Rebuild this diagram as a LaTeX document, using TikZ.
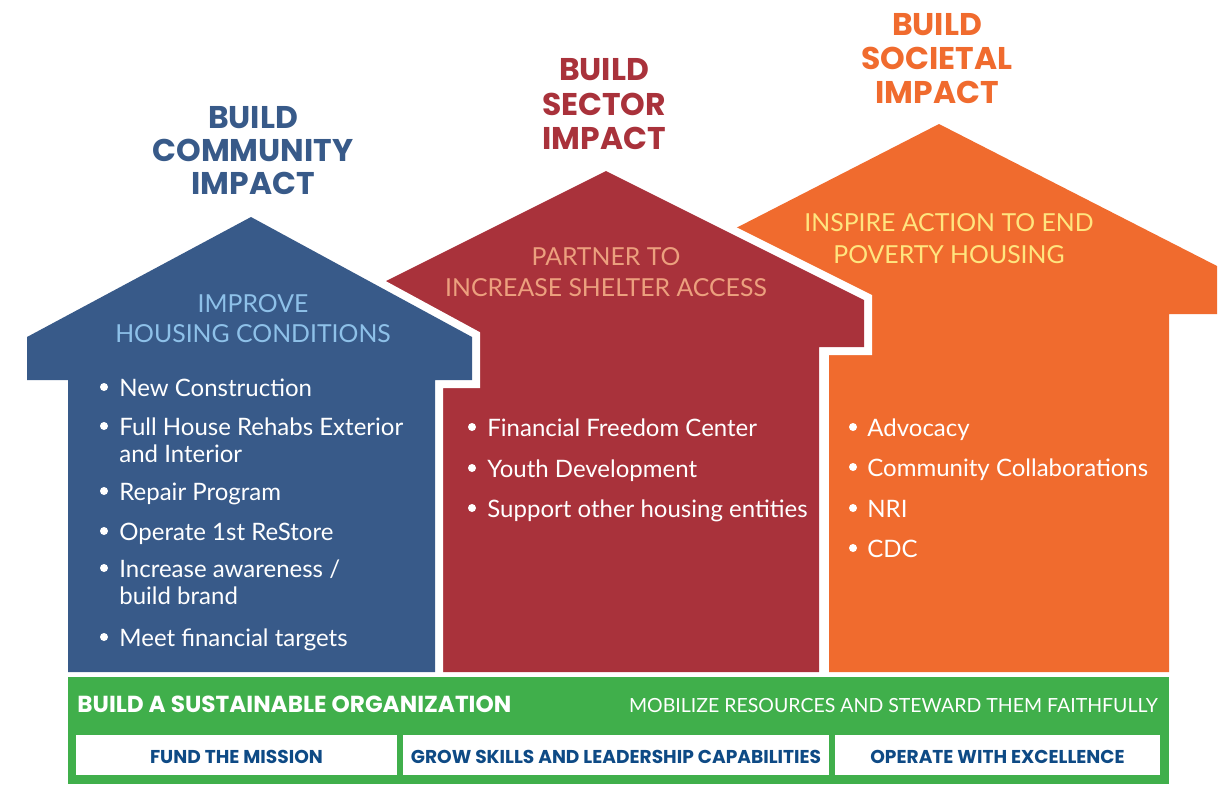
\documentclass[tikz,border=0pt]{standalone}
\usepackage{fontspec}
\setmainfont{Lato}
\newfontfamily\headfont{Poppins}

\definecolor{hblue}{RGB}{56,90,137}
\definecolor{hred}{RGB}{169,50,59}
\definecolor{horange}{RGB}{240,107,46}
\definecolor{sgreen}{RGB}{64,175,75}
\definecolor{lblue}{RGB}{142,193,233}
\definecolor{peach}{RGB}{236,160,126}
\definecolor{lyellow}{RGB}{255,229,127}
\definecolor{dblue}{RGB}{14,74,133}

\begin{document}
\begin{tikzpicture}[x=0.5pt,y=-0.5pt]
\tikzset{house/.style={preaction={draw=white, line width=8pt, line join=miter}},
  title/.style={font=\headfont\bfseries\fontsize{15.7}{18}\selectfont, anchor=base, inner sep=0},
  goal/.style={font=\fontsize{12.4}{14}\selectfont, anchor=base, inner sep=0},
  item/.style={font=\fontsize{12}{14}\selectfont, text=white, anchor=base west, inner sep=0},
  pillar/.style={fill=white, text=dblue, inner sep=0, minimum height=20pt,
    text height=8pt, text depth=0pt, font=\headfont\bfseries\fontsize{9.3}{10}\selectfont}}
\useasboundingbox (0,0) rectangle (1232,784);
% Houses, back to front
\fill[house, fill=horange] (939,124) -- (1217,266) -- (1217,314) -- (1169,314) -- (1169,672)
  -- (829,672) -- (829,314) -- (736,314) -- (736,228) -- cycle;
\fill[house, fill=hred] (606,171) -- (864,300) -- (864,347) -- (819,347) -- (819,672)
  -- (443,672) -- (443,347) -- (348,347) -- (348,300) -- cycle;
\fill[house, fill=hblue] (251,217) -- (472,337) -- (472,380) -- (435,380) -- (435,672)
  -- (68,672) -- (68,380) -- (27,380) -- (27,337) -- cycle;
% Titles
\foreach \t/\y [count=\i] in {BUILD/128,COMMUNITY/161,IMPACT/194}
  \node[title, text=hblue] (tc\i) at (253,\y) {\t};
\foreach \t/\y [count=\i] in {BUILD/80,SECTOR/115,IMPACT/149}
  \node[title, text=hred] (ts\i) at (604,\y) {\t};
\foreach \t/\y [count=\i] in {BUILD/35,SOCIETAL/69,IMPACT/103}
  \node[title, text=horange] (tz\i) at (937,\y) {\t};
% Goals
\node[goal, text=lblue] (gc1) at (253,312) {IMPROVE};
\node[goal, text=lblue] (gc2) at (253,342) {HOUSING CONDITIONS};
\node[goal, text=peach] (gs1) at (606,265) {PARTNER TO};
\node[goal, text=peach] (gs2) at (606,296) {INCREASE SHELTER ACCESS};
\node[goal, text=lyellow] (gz1) at (949,231) {INSPIRE ACTION TO END};
\node[goal, text=lyellow] (gz2) at (949,263) {POVERTY HOUSING};
% Bullet lists (b=1 starts an item)
\foreach \y/\t/\b [count=\i] in {396/New Construction/1, 435/Full House Rehabs Exterior/1,
    462/and Interior/0, 500/Repair Program/1, 540/Operate 1st ReStore/1,
    577/Increase awareness \slash/1, 604/build brand/0, 646/Meet financial targets/1} {
  \node[item] (ic\i) at (119,\y) {\t};
  \ifnum\b=1 \fill[white] (104,\y-9) circle (4); \fi
}
\foreach \y/\t [count=\i] in {436/Financial Freedom Center, 477/Youth Development,
    517/Support other housing entities} {
  \node[item] (is\i) at (487,\y) {\t};
  \fill[white] (472,\y-9) circle (4);
}
\foreach \y/\t [count=\i] in {436/Advocacy, 476/Community Collaborations, 517/NRI, 557/CDC} {
  \node[item] (iz\i) at (867,\y) {\t};
  \fill[white] (853,\y-9) circle (4);
}
% Foundation
\fill[sgreen] (68,677) rectangle (1169,784);
\node[anchor=base west, inner sep=0, text=white, font=\headfont\bfseries\fontsize{11.6}{13}\selectfont]
  (base) at (77,712) {BUILD A SUSTAINABLE ORGANIZATION};
\node[anchor=base east, inner sep=0, text=white, font=\fontsize{9.75}{12}\selectfont]
  (mob) at (1158,712) {MOBILIZE RESOURCES AND STEWARD THEM FAITHFULLY};
\foreach \a/\b/\t [count=\i] in {76/397/FUND THE MISSION,
    403/829/GROW SKILLS AND LEADERSHIP CAPABILITIES, 835/1160/OPERATE WITH EXCELLENCE}
  \node[pillar, minimum width={(\b-\a)*0.5pt}] (p\i) at ({(\a+\b)/2},755) {\t};
\end{tikzpicture}
\end{document}
